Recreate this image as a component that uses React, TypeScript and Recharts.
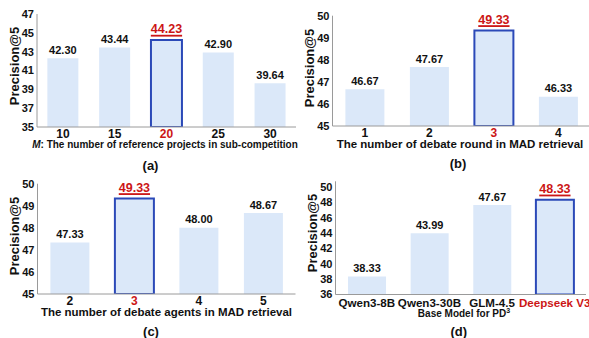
import React from 'react';
import { BarChart, Bar, XAxis, YAxis, Cell, LabelList } from 'recharts';

const catsA = ['10', '15', '20', '25', '30'];
const valsA = [42.3, 43.44, 44.23, 42.9, 39.64];
const ticksA = [35, 37, 39, 41, 43, 45, 47];
const bestA = 2;

const catsB = ['1', '2', '3', '4'];
const valsB = [46.67, 47.67, 49.33, 46.33];
const ticksB = [45, 46, 47, 48, 49, 50];
const bestB = 2;

const catsC = ['2', '3', '4', '5'];
const valsC = [47.33, 49.33, 48.0, 48.67];
const ticksC = [45, 46, 47, 48, 49, 50];
const bestC = 1;

const catsD = ['Qwen3-8B', 'Qwen3-30B', 'GLM-4.5', 'Deepseek V3'];
const valsD = [38.33, 43.99, 47.67, 48.33];
const ticksD = [36, 38, 40, 42, 44, 46, 48, 50];
const bestD = 3;

const FONT = 'Liberation Sans, Arial, Helvetica, sans-serif';
const FILL = '#dbe8f9';
const EDGE = '#2b49b8';
const RED = '#cc1616';
const AXIS = '#9a9a9a';

const glyphW = (s: string) =>
  s.split('').reduce((a, c) => a + (c === '.' ? 0.278 : 0.556), 0);

type PanelProps = {
  cats: string[];
  vals: number[];
  ticks: number[];
  domain: [number, number];
  best: number;
  left: number;
  top: number;
  width: number;
  height: number;
  margin: { top: number; right: number; bottom: number; left: number };
  yWidth: number;
  tickGap: number;
  xFont: number;
};

function Panel(p: PanelProps) {
  const data = p.cats.map((c, i) => ({ cat: c, val: p.vals[i] }));
  const renderTick = (props: any) => {
    const { x, y, payload, index } = props;
    return (
      <text
        x={x}
        y={y}
        dy="0.71em"
        textAnchor="middle"
        fontFamily={FONT}
        fontWeight="bold"
        fontSize={p.xFont}
        fill={index === p.best ? RED : '#111'}
      >
        {payload.value}
      </text>
    );
  };
  const renderLabel = (props: any) => {
    const { x, y, width, value, index } = props;
    const cx = x + width / 2;
    const s = Number(value).toFixed(2);
    if (index === p.best) {
      const fs = 12.5;
      const w = glyphW(s) * fs;
      return (
        <g>
          <text x={cx} y={y - 6.8} textAnchor="middle" fontFamily={FONT} fontWeight="bold" fontSize={fs} fill={RED}>
            {s}
          </text>
          <rect x={cx - w / 2} y={y - 5.3} width={w} height={1.8} fill={RED} />
        </g>
      );
    }
    return (
      <text x={cx} y={y - 4.4} textAnchor="middle" fontFamily={FONT} fontWeight="bold" fontSize={11} fill="#111">
        {s}
      </text>
    );
  };
  return (
    <div style={{ position: 'absolute', left: p.left, top: p.top }}>
      <BarChart width={p.width} height={p.height} data={data} margin={p.margin} barCategoryGap="20%">
        <XAxis
          dataKey="cat"
          height={20}
          tickLine={false}
          tickSize={0}
          tickMargin={p.tickGap}
          axisLine={{ stroke: AXIS, strokeWidth: 1 }}
          tick={renderTick}
          interval={0}
        />
        <YAxis
          type="number"
          domain={p.domain}
          ticks={p.ticks}
          width={p.yWidth}
          tickLine={false}
          tickSize={0}
          tickMargin={3}
          axisLine={{ stroke: AXIS, strokeWidth: 1 }}
          tick={{ fontFamily: FONT, fontWeight: 'bold', fontSize: 11, fill: '#111' }}
          interval={0}
          allowDataOverflow
        />
        <Bar dataKey="val" isAnimationActive={false} fill={FILL}>
          {data.map((d, i) => (
            <Cell
              key={d.cat}
              fill={FILL}
              stroke={i === p.best ? EDGE : 'none'}
              strokeWidth={i === p.best ? 2 : 0}
            />
          ))}
          <LabelList dataKey="val" content={renderLabel} />
        </Bar>
      </BarChart>
    </div>
  );
}

function HText(props: { cx: number; cy: number; size: number; children: React.ReactNode }) {
  return (
    <div
      style={{
        position: 'absolute',
        left: props.cx,
        top: props.cy,
        transform: 'translate(-50%, -50%)',
        whiteSpace: 'nowrap',
        fontFamily: FONT,
        fontWeight: 'bold',
        fontSize: props.size,
        lineHeight: 1,
        color: '#111',
      }}
    >
      {props.children}
    </div>
  );
}

function VText(props: { cx: number; cy: number; size: number; children: React.ReactNode }) {
  return (
    <div
      style={{
        position: 'absolute',
        left: props.cx,
        top: props.cy,
        transform: 'translate(-50%, -50%) rotate(-90deg)',
        whiteSpace: 'nowrap',
        fontFamily: FONT,
        fontWeight: 'bold',
        fontSize: props.size,
        lineHeight: 1,
        color: '#111',
      }}
    >
      {props.children}
    </div>
  );
}

export default function App() {
  return (
    <div
      style={{
        position: 'absolute',
        left: 0,
        top: 0,
        width: 589,
        height: 338,
        overflow: 'hidden',
        background: '#fff',
      }}
    >
      <Panel
        cats={catsA}
        vals={valsA}
        ticks={ticksA}
        domain={[35, 47]}
        best={bestA}
        left={0}
        top={0}
        width={300}
        height={170}
        margin={{ top: 14, right: 4, bottom: 23, left: 0 }}
        yWidth={37}
        tickGap={2.8}
        xFont={12}
      />
      <Panel
        cats={catsB}
        vals={valsB}
        ticks={ticksB}
        domain={[45, 50]}
        best={bestB}
        left={295}
        top={0}
        width={296}
        height={170}
        margin={{ top: 15.7, right: 0.5, bottom: 24, left: 0.5 }}
        yWidth={37}
        tickGap={2.5}
        xFont={12}
      />
      <Panel
        cats={catsC}
        vals={valsC}
        ticks={ticksC}
        domain={[45, 50]}
        best={bestC}
        left={0}
        top={168}
        width={300}
        height={170}
        margin={{ top: 15.7, right: 4.5, bottom: 24, left: 0.5 }}
        yWidth={37}
        tickGap={2.2}
        xFont={12}
      />
      <Panel
        cats={catsD}
        vals={valsD}
        ticks={ticksD}
        domain={[36, 50.75]}
        best={bestD}
        left={295}
        top={168}
        width={296}
        height={170}
        margin={{ top: 13.3, right: 5, bottom: 23.5, left: 0.5 }}
        yWidth={40}
        tickGap={4.5}
        xFont={11.6}
      />

      <VText cx={14} cy={66} size={13}>Precision@5</VText>
      <VText cx={309} cy={68} size={13}>Precision@5</VText>
      <VText cx={14} cy={235.5} size={13}>Precision@5</VText>
      <VText cx={312} cy={233} size={13}>Precision@5</VText>

      <HText cx={165} cy={145} size={10}>
        <i>M</i>: The number of reference projects in sub-competition
      </HText>
      <HText cx={460} cy={145} size={11.5}>The number of debate round in MAD retrieval</HText>
      <HText cx={166.5} cy={313} size={11.5}>The number of debate agents in MAD retrieval</HText>
      <HText cx={464} cy={314} size={10}>
        Base Model for PD<sup style={{ fontSize: 7, verticalAlign: 'top', position: 'relative', top: -2 }}>3</sup>
      </HText>

      <HText cx={150.5} cy={165} size={13}>(a)</HText>
      <HText cx={458} cy={163.3} size={13}>(b)</HText>
      <HText cx={151} cy={331.3} size={13}>(c)</HText>
      <HText cx={458.7} cy={331.3} size={13}>(d)</HText>
    </div>
  );
}
